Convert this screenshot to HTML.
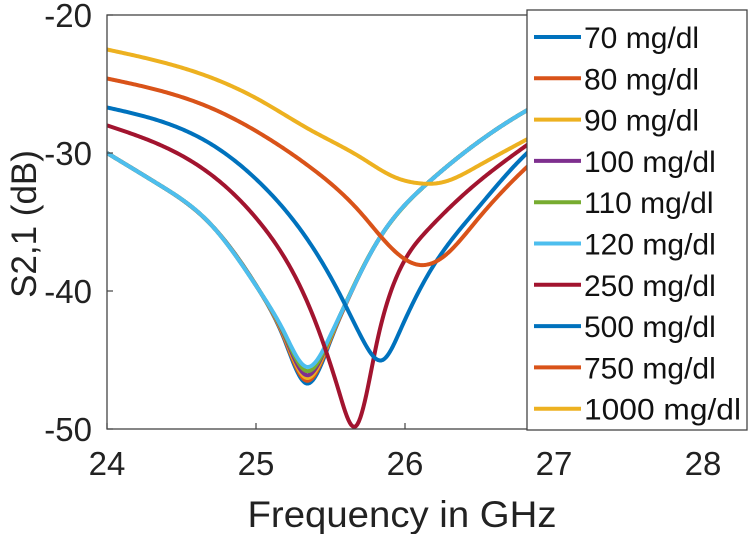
<!DOCTYPE html>
<html><head><meta charset="utf-8"><style>
body{margin:0;background:#fff}
svg{display:block;font-family:"Liberation Sans",sans-serif}
</style></head><body>
<svg id="chart" width="750" height="534" viewBox="0 0 750 534">
<defs><clipPath id="clip"><rect x="107" y="15" width="596" height="414"/></clipPath></defs>
<g id="curves" clip-path="url(#clip)"></g>
<rect x="107" y="15" width="596" height="414" fill="none" stroke="#444" stroke-width="1.3"/>
<g id="axes"></g>
<text x="402" y="527" font-size="37" text-anchor="middle" textLength="309" lengthAdjust="spacingAndGlyphs" fill="#222">Frequency in GHz</text>
<text transform="translate(36,224) rotate(-90)" font-size="35" text-anchor="middle" fill="#222">S2,1 (dB)</text>
<g id="legend"></g>
</svg>
<script>
const xTicks=[24,25,26,27,28];
const yTicks=[-20,-30,-40,-50];
const labels=["70 mg/dl","80 mg/dl","90 mg/dl","100 mg/dl","110 mg/dl","120 mg/dl","250 mg/dl","500 mg/dl","750 mg/dl","1000 mg/dl"];
const colors=["#0072BD","#D95319","#EDB120","#7E2F8E","#77AC30","#4DBEEE","#A2142F","#0072BD","#D95319","#EDB120"];
const fGroup=[24,24.35,24.69,25.03,25.19,25.34,25.5,25.58,25.81,26.15,26.48,26.82,27.2];
const s70=[-30,-32.3,-35.1,-40.1,-43.5,-46.7,-43.6,-41.5,-36.5,-32.2,-29.3,-26.9,-24.8];
const s80=[-30,-32.3,-35.1,-40.1,-43.4,-46.5,-43.5,-41.5,-36.5,-32.2,-29.3,-26.9,-24.8];
const s90=[-30,-32.3,-35.1,-40.1,-43.3,-46.3,-43.4,-41.4,-36.5,-32.2,-29.3,-26.9,-24.8];
const s100=[-30,-32.3,-35.1,-40.1,-43.2,-46.1,-43.3,-41.4,-36.5,-32.2,-29.3,-26.9,-24.8];
const s110=[-30,-32.3,-35.1,-40.1,-43.1,-45.8,-43.3,-41.4,-36.5,-32.2,-29.3,-26.9,-24.8];
const s120=[-30,-32.3,-35.1,-40.1,-43,-45.5,-43.2,-41.4,-36.5,-32.2,-29.3,-26.9,-24.8];
const f250=[24,24.69,25.03,25.36,25.56,25.67,25.81,25.92,26.15,26.48,26.77,27.2];
const s250=[-28,-31.5,-35.1,-41.2,-47.4,-49.8,-43.8,-39.6,-35.6,-32.2,-29.8,-26.5];
const f500=[24,24.69,25.03,25.36,25.58,25.72,25.85,25.97,26.15,26.48,26.82,27.2];
const s500=[-26.7,-29.3,-32.2,-36.5,-40.6,-43.6,-45,-42.8,-38.9,-34.1,-30,-27];
const f750=[24,24.69,25.03,25.36,25.7,25.92,26.09,26.26,26.48,26.82,27.2];
const s750=[-24.6,-26.7,-28.6,-31,-34.3,-37,-38.1,-37.5,-34.9,-31,-27.5];
const f1000=[24,24.69,25.03,25.36,25.7,25.92,26.1,26.26,26.48,26.82,27.2];
const s1000=[-22.5,-24.5,-26.2,-28.3,-30.3,-31.7,-32.2,-32.1,-31,-29,-26.8];
const seriesF=[fGroup,fGroup,fGroup,fGroup,fGroup,fGroup,f250,f500,f750,f1000];
const seriesV=[s70,s80,s90,s100,s110,s120,s250,s500,s750,s1000];
const NS="http://www.w3.org/2000/svg";
const X0=107,X1=703,Y0=15,Y1=429;
const xs=v=>X0+(v-24)/(28-24)*(X1-X0);
const ys=v=>Y0+(-20-v)/30*(Y1-Y0);
function mk(t,a,p){const e=document.createElementNS(NS,t);for(const k in a)e.setAttribute(k,a[k]);p.appendChild(e);return e;}
const ax=document.getElementById('axes');
xTicks.forEach(t=>{
 const l=mk('line',{x1:xs(t),x2:xs(t),y1:Y1,y2:Y1-6,stroke:'#444','stroke-width':1.2},ax);
 
 
 const tx=mk('text',{x:xs(t),y:475,'font-size':33,'text-anchor':'middle',fill:'#222'},ax);tx.textContent=t;
 
 
});
yTicks.forEach(t=>{
 const l=mk('line',{x1:X0,x2:X0+6,y1:ys(t),y2:ys(t),stroke:'#444','stroke-width':1.2},ax);
 
 
 const tx=mk('text',{x:92,y:ys(t)+12,'font-size':33,'text-anchor':'end',fill:'#222'},ax);tx.textContent=t;
 
 
});
// natural cubic spline, sampled finely
function pathFor(F,V){
 const n=F.length,h=[],a=V.slice(),c=new Array(n).fill(0);
 for(let i=0;i<n-1;i++)h.push(F[i+1]-F[i]);
 const al=new Array(n).fill(0),l=new Array(n).fill(1),mu=new Array(n).fill(0),z=new Array(n).fill(0);
 for(let i=1;i<n-1;i++)al[i]=3/h[i]*(a[i+1]-a[i])-3/h[i-1]*(a[i]-a[i-1]);
 for(let i=1;i<n-1;i++){l[i]=2*(F[i+1]-F[i-1])-h[i-1]*mu[i-1];mu[i]=h[i]/l[i];z[i]=(al[i]-h[i-1]*z[i-1])/l[i];}
 const b=new Array(n).fill(0),d=new Array(n).fill(0);
 for(let j=n-2;j>=0;j--){c[j]=z[j]-mu[j]*c[j+1];b[j]=(a[j+1]-a[j])/h[j]-h[j]*(c[j+1]+2*c[j])/3;d[j]=(c[j+1]-c[j])/(3*h[j]);}
 let s='';
 for(let j=0;j<n-1;j++){
  const steps=Math.max(4,Math.ceil(h[j]*149/1.5));
  for(let k=(j===0?0:1);k<=steps;k++){
   const t=h[j]*k/steps,v=a[j]+b[j]*t+c[j]*t*t+d[j]*t*t*t;
   s+=(s?' L':'M')+xs(F[j]+t).toFixed(2)+','+ys(v).toFixed(2);
  }
 }
 return s;
}
const cg=document.getElementById('curves');
seriesV.forEach((V,i)=>{
 const p=mk('path',{d:pathFor(seriesF[i],V),fill:'none',stroke:colors[i],'stroke-width':4,'stroke-linejoin':'round'},cg);
 
 
});
const lg=document.getElementById('legend');
const bx=mk('rect',{x:527,y:10,width:220,height:420,fill:'#fff',stroke:'#444','stroke-width':1.3},lg);


labels.forEach((lab,i)=>{
 const y=37+i*41.3;
 const g=mk('g',{},lg);
 
 
 mk('line',{x1:534,x2:581,y1:y,y2:y,stroke:colors[i],'stroke-width':4},g);
 const t=mk('text',{x:584,y:y+11,'font-size':30,fill:'#111'},g);t.textContent=lab;
 if(i===9){t.setAttribute('textLength','157');t.setAttribute('lengthAdjust','spacingAndGlyphs');}
});
</script>
</body></html>
